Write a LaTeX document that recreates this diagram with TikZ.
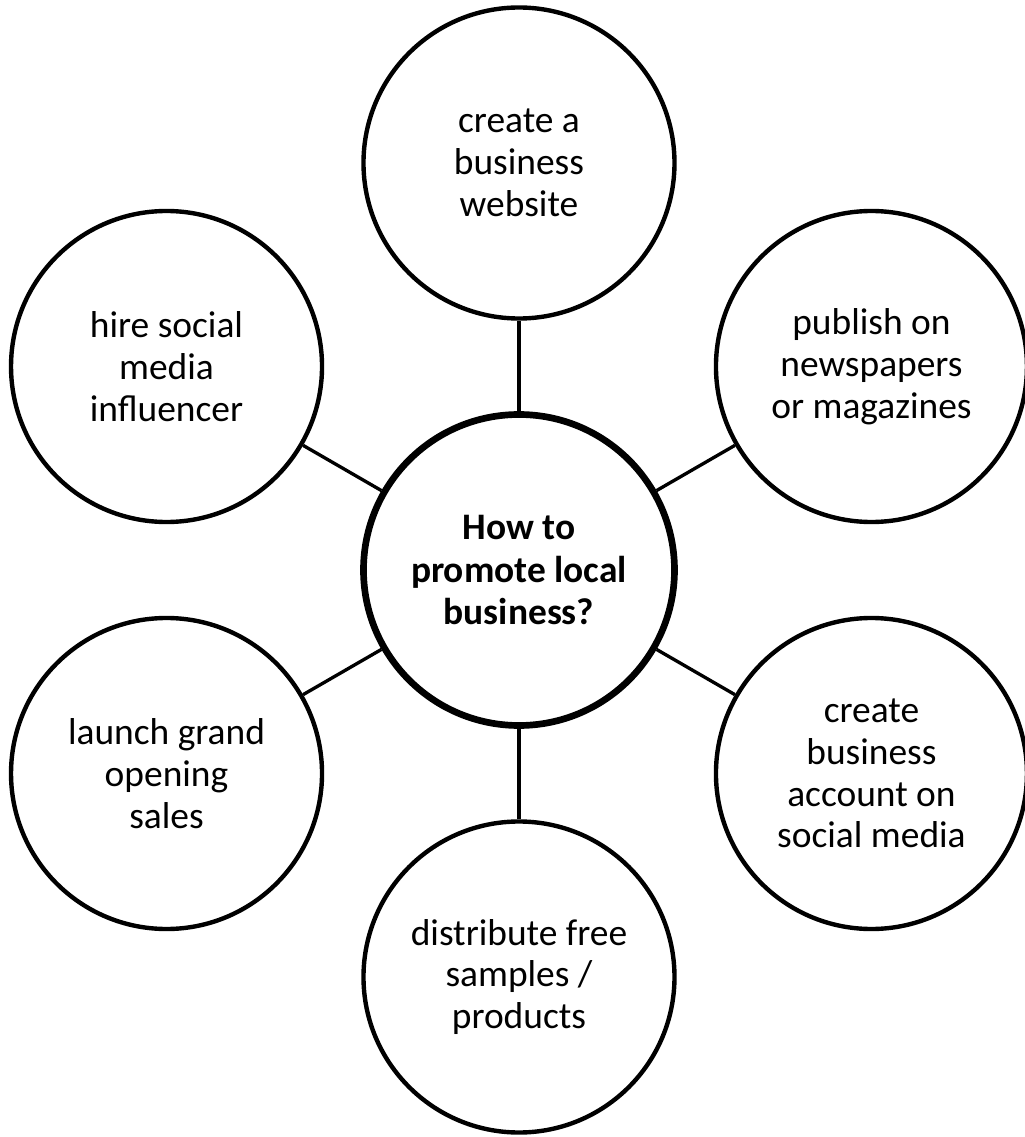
\documentclass[tikz,border=0pt]{standalone}
\usepackage{fontspec}
\setmainfont{Carlito}
\usetikzlibrary{positioning}

\begin{document}
\begin{tikzpicture}[
  idea/.style={circle,draw,line width=2.5pt,minimum size=6.22cm,inner sep=0pt,align=center,font=\fontsize{21.3}{23.8}\selectfont},
  hub/.style={idea,line width=3.8pt,font=\fontsize{21.3}{24.2}\selectfont\bfseries},
  link/.style={line width=1.9pt}
]
\useasboundingbox (-10.38,-11.34) rectangle (10.12,11.4);

% Central question
\node[hub] (q) at (0,0) {How to\\promote local\\business?};

% Ideas around it
\node[idea] (web) at (90:8.14) {create a\\business\\website};
\node[idea] (news) at (30:8.14) {publish on\\newspapers\\or magazines};
\node[idea] (acct) at (-30:8.14) {create\\business\\account on\\social media};
\node[idea] (free) at (-90:8.14) {distribute free\\samples /\\products};
\node[idea] (sale) at (210:8.14) {launch grand\\opening\\sales};
\node[idea] (infl) at (150:8.14) {hire social\\media\\influencer};

% Links
\foreach \n in {web,news,acct,free,sale,infl}
  \draw[link] (q) -- (\n);
\end{tikzpicture}
\end{document}
